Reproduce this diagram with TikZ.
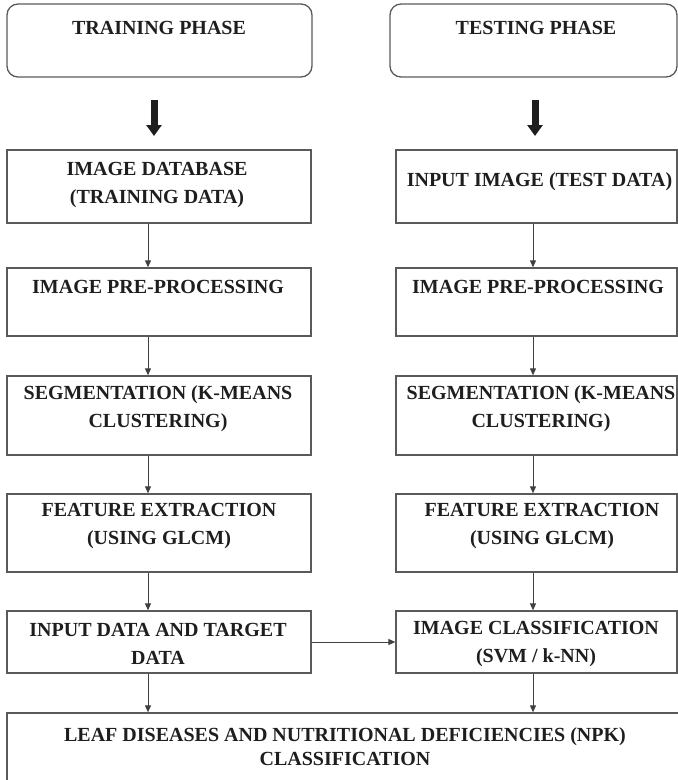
\documentclass[tikz,border=0pt]{standalone}
\usepackage{fontspec}
\setmainfont{Liberation Serif}
\usetikzlibrary{arrows.meta}
\definecolor{edge}{HTML}{5A5A5A}
\definecolor{ink}{HTML}{1E1E1E}
\begin{document}
\begin{tikzpicture}[x=1pt,y=-1pt,
  box/.style={draw=edge, line width=1.3pt, rectangle, inner sep=0pt},
  phase/.style={box, rounded corners=11pt},
  lbl/.style={text=ink, align=center, inner sep=0pt,
    font=\bfseries\fontsize{20}{28}\selectfont},
  flow/.style={draw=ink!85, line width=1pt, -{Triangle[width=6pt,length=7pt]}},
  bigflow/.style={draw=ink, line width=7pt, -{Triangle[width=15pt,length=11pt]}}
]
\useasboundingbox (0,0) rectangle (678,780);
\begin{scope}
\clip (0,0) rectangle (678,780);

% phase headers
\node[phase, minimum width=305pt, minimum height=73pt] (trainhead) at (159.5,40.5) {};
\node[phase, minimum width=287pt, minimum height=73pt] (testhead) at (533.5,40.5) {};
\node[lbl] (trainheadtxt) at (159,28) {TRAINING PHASE};
\node[lbl] (testheadtxt) at (536,28) {TESTING PHASE};

% bold arrows below the headers
\coordinate (ta) at (154,100);
\coordinate (tb) at (154,136);
\coordinate (sa) at (535,100);
\coordinate (sb) at (535,136);
\draw[bigflow] (ta) -- (tb);
\draw[bigflow] (sa) -- (sb);

% training column boxes
\node[box, minimum width=304pt, minimum height=73pt] (L1) at (159,186.5) {};
\node[box, minimum width=304pt, minimum height=68pt] (L2) at (159,302) {};
\node[box, minimum width=304pt, minimum height=79pt] (L3) at (159,415.5) {};
\node[box, minimum width=304pt, minimum height=78pt] (L4) at (159,533) {};
\node[box, minimum width=304pt, minimum height=62pt] (L5) at (159,642) {};

% testing column boxes
\node[box, minimum width=281pt, minimum height=73pt] (R1) at (536.5,186.5) {};
\node[box, minimum width=281pt, minimum height=68pt] (R2) at (536.5,302) {};
\node[box, minimum width=281pt, minimum height=79pt] (R3) at (536.5,415.5) {};
\node[box, minimum width=281pt, minimum height=78pt] (R4) at (536.5,533) {};
\node[box, minimum width=281pt, minimum height=62pt] (R5) at (536.5,642) {};

% final result box (runs past the page edge)
\node[box, minimum width=700pt, minimum height=100pt] (res) at (357,763) {};

% box texts
\node[lbl] (L1t) at (157,185) {IMAGE DATABASE\\(TRAINING DATA)};
\node[lbl] (L2t) at (158,287) {IMAGE PRE-PROCESSING};
\node[lbl] (L3t) at (158,409) {SEGMENTATION (K-MEANS\\CLUSTERING)};
\node[lbl] (L4t) at (159,526) {FEATURE EXTRACTION\\(USING GLCM)};
\node[lbl] (L5t) at (158,644) {INPUT DATA AND TARGET\\DATA};

\node[lbl] (R1t) at (539.5,182) {INPUT IMAGE (TEST DATA)};
\node[lbl] (R2t) at (538,287) {IMAGE PRE-PROCESSING};
\node[lbl] (R3t) at (541,409) {SEGMENTATION (K-MEANS\\CLUSTERING)};
\node[lbl] (R4t) at (542,526) {FEATURE EXTRACTION\\(USING GLCM)};
\node[lbl] (R5t) at (536,644) {IMAGE CLASSIFICATION\\(SVM / k-NN)};

\node[lbl, font=\bfseries\fontsize{20}{24}\selectfont] (rest) at (345,747)
  {LEAF DISEASES AND NUTRITIONAL DEFICIENCIES (NPK)\\CLASSIFICATION};

% thin connectors
\coordinate (xl) at (148,0);
\coordinate (xr) at (533,0);
\draw[flow] (L1.south -| xl) -- (L2.north -| xl);
\draw[flow] (L2.south -| xl) -- (L3.north -| xl);
\draw[flow] (L3.south -| xl) -- (L4.north -| xl);
\draw[flow] (L4.south -| xl) -- (L5.north -| xl);
\draw[flow] (L5.south -| xl) -- (res.north -| xl);

\draw[flow] (R1.south -| xr) -- (R2.north -| xr);
\draw[flow] (R2.south -| xr) -- (R3.north -| xr);
\draw[flow] (R3.south -| xr) -- (R4.north -| xr);
\draw[flow] (R4.south -| xr) -- (R5.north -| xr);
\draw[flow] (R5.south -| xr) -- (res.north -| xr);

\draw[flow] (L5.east) -- (R5.west);
\end{scope}
\end{tikzpicture}
\end{document}
